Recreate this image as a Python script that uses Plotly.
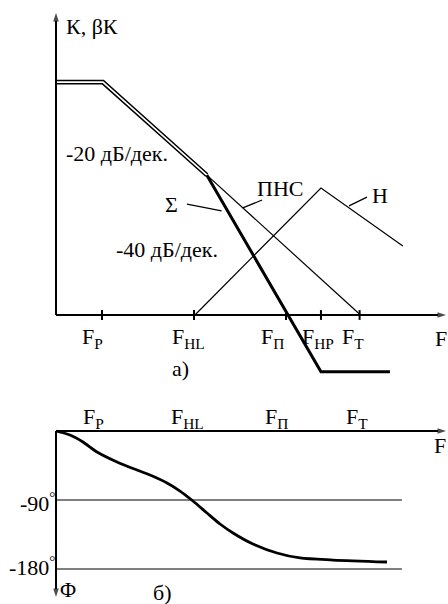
import plotly.graph_objects as go

# ---- data -----------------------------------------------------------------
# Frequency is in decades from the origin, amplitude in dB, phase in degrees.
tick_labels = ["F<sub>P</sub>", "F<sub>HL</sub>", "F<sub>П</sub>", "F<sub>HP</sub>", "F<sub>T</sub>"]
tick_freq = [0.5, 1.5, 2.5, 2.88, 3.3]

phase_labels = ["F<sub>P</sub>", "F<sub>HL</sub>", "F<sub>П</sub>", "F<sub>T</sub>"]
phase_label_freq = [0.5, 1.5, 2.5, 3.3]

# open-loop asymptote K (shared part of K and βK)
k_freq = [0.0, 0.51, 1.64]
k_db = [56.1, 56.1, 33.7]

# resulting loop gain Σ (-40 dB/dec after the break)
sigma_freq = [1.64, 2.88, 3.63]
sigma_db = [33.7, -13.7, -13.7]

# ПНС branch continuing at -20 dB/dec
pns_freq = [1.64, 3.31]
pns_db = [33.7, 0.0]

# Н branch
n_freq = [1.51, 2.88, 3.77]
n_db = [0.0, 30.6, 16.6]

# phase response
phase_freq = [0.0, 0.152, 0.293, 0.446, 0.663, 0.880, 1.022, 1.207, 1.348, 1.489,
              1.641, 1.783, 1.924, 2.141, 2.402, 2.652, 3.011, 3.598]
phase_deg = [0.0, -5.2, -14.3, -27.4, -40.4, -50.9, -57.4, -67.8, -78.3, -91.3,
             -107.0, -121.3, -133.0, -147.4, -159.1, -165.6, -168.3, -170.9]

phase_refs = [-90, -180]
phase_ref_labels = ["-90<sup>°</sup>", "-180<sup>°</sup>"]

# ---- style ----------------------------------------------------------------
FONT = dict(family="Liberation Serif, Times New Roman, serif", size=22, color="black")
BLACK = "black"
X_RANGE = [-0.6087, 4.2609]
X_END = 4.24          # arrow tip of the frequency axes
REF_END = 3.76        # extent of the phase reference lines
TOP_SPLIT = 1 - 400 / 604

fig = go.Figure()


def line(xs, ys, width, color=BLACK, yaxis="y", shape="linear", smoothing=0.8):
    fig.add_trace(go.Scatter(x=xs, y=ys, mode="lines", yaxis=yaxis,
                             line=dict(color=color, width=width, shape=shape,
                                       smoothing=smoothing),
                             hoverinfo="skip", showlegend=False))


def arrow_axis(xs, ys, yaxis="y"):
    fig.add_trace(go.Scatter(x=xs, y=ys, mode="lines+markers", yaxis=yaxis,
                             line=dict(color=BLACK, width=2),
                             marker=dict(symbol="arrow", size=[0, 9], angleref="previous",
                                         color=BLACK, line=dict(width=0)),
                             hoverinfo="skip", showlegend=False))


# ---- amplitude panel ------------------------------------------------------
# double line for the common asymptote
line(k_freq, k_db, 4.6)
line(k_freq, k_db, 1.6, color="white")
line(pns_freq, pns_db, 1.2)
line(n_freq, n_db, 1.2)
line(sigma_freq, sigma_db, 3.0)

arrow_axis([0, 0], [0, 72.8])
arrow_axis([0, X_END], [0, 0])

fig.add_trace(go.Scatter(x=tick_freq, y=[0] * len(tick_freq), mode="markers",
                         marker=dict(symbol="line-ns", size=7,
                                     line=dict(color=BLACK, width=2)),
                         hoverinfo="skip", showlegend=False))

# ---- phase panel ----------------------------------------------------------
for ref in phase_refs:
    line([0, REF_END], [ref, ref], 1.0, yaxis="y2")
line(phase_freq, phase_deg, 2.8, yaxis="y2", shape="spline")
arrow_axis([0, X_END], [0, 0], yaxis="y2")
arrow_axis([0, 0], [0, -216.5], yaxis="y2")

# ---- text -----------------------------------------------------------------
ann = []


def text(x, y, s, yref="y", xanchor="center", xshift=0, size=None):
    f = dict(FONT)
    if size:
        f["size"] = size
    ann.append(dict(x=x, y=y, xref="x", yref=yref, text=s, showarrow=False,
                    xanchor=xanchor, yanchor="middle", xshift=xshift, font=f))


text(0.087, 69.6, "К, βК", xanchor="left")
text(0.087, 39.0, "-20 дБ/дек.", xanchor="left")
text(0.63, 15.9, "-40 дБ/дек.", xanchor="left")
text(1.25, 26.7, "Σ")
text(2.435, 30.6, "ПНС")
text(3.52, 28.9, "Н")

top_shift = [-10, -6, -14, -3, -7]
for f, s, dx in zip(tick_freq, tick_labels, top_shift):
    text(f, -5.6, s, xshift=dx)
text(4.185, -5.6, "F")
text(1.35, -13.0, "а)")

bottom_shift = [-9, -7, -10, -3]
for f, s, dx in zip(phase_label_freq, phase_labels, bottom_shift):
    text(f, 17.0, s, yref="y2", xshift=dx)
text(4.17, -18.3, "F", yref="y2")
for ref, s, dy in zip(phase_refs, phase_ref_labels, [-3, 4]):
    text(0.0, ref + dy, s, yref="y2", xanchor="right", xshift=1)
text(0.13, -207.0, "Φ", yref="y2")
text(1.16, -210.0, "б)", yref="y2")

# leader lines from captions to their curves
leaders = [((1.424, 26.7), (1.80, 25.1)),
           ((2.03, 25.8), (2.24, 27.7)),
           ((3.185, 26.3), (3.38, 28.4))]
shapes = [dict(type="line", xref="x", yref="y", x0=a[0], y0=a[1], x1=b[0], y1=b[1],
               line=dict(color=BLACK, width=1.2)) for a, b in leaders]

fig.update_layout(
    width=448, height=604, autosize=False,
    margin=dict(l=0, r=0, t=0, b=0, pad=0),
    paper_bgcolor="white", plot_bgcolor="white",
    xaxis=dict(range=X_RANGE, visible=False, fixedrange=True),
    yaxis=dict(domain=[TOP_SPLIT, 1], range=[-20.48, 75.90], visible=False),
    yaxis2=dict(domain=[0, TOP_SPLIT], range=[-225.65, 40.43], visible=False, anchor="x"),
    annotations=ann, shapes=shapes, showlegend=False,
)

fig.write_html("out.html")
